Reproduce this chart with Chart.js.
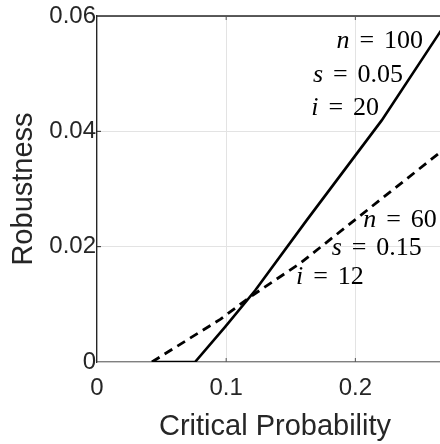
<!DOCTYPE html>
<html>
<head>
<meta charset="utf-8">
<script src="https://cdn.jsdelivr.net/npm/chart.js@4.4.1/dist/chart.umd.min.js"></script>
<style>
  html, body { margin: 0; padding: 0; background: #fff; overflow: hidden; }
  #wrap { width: 456px; height: 444px; }
</style>
</head>
<body>
<div id="wrap"><canvas id="chart" width="456" height="444"></canvas></div>
<script>
// Robustness curves
const solidX = [0.0425, 0.0759, 0.0992, 0.1224, 0.1624, 0.2204, 0.2655, 0.2742];
const solidY = [0, 0, 0.0061, 0.0124, 0.0246, 0.0419, 0.0572, 0.0600];
const dashX = [0.0425, 0.0954, 0.1186, 0.1572, 0.2011, 0.2642, 0.2756];
const dashY = [0, 0.0074, 0.0113, 0.0171, 0.0249, 0.0361, 0.0382];

const xTickValues = [0, 0.1, 0.2];
const xTickLabels = ['0', '0.1', '0.2'];
const yTickValues = [0, 0.02, 0.04, 0.06];
const yTickLabels = ['0', '0.02', '0.04', '0.06'];

const solidParams = [['n', '100'], ['s', '0.05'], ['i', '20']];
const dashParams = [['n', '60'], ['s', '0.15'], ['i', '12']];

const toPoints = (xs, ys) => xs.map((x, i) => ({ x: x, y: ys[i] }));

const TICK_FONT = { family: '"Liberation Sans", Arial, sans-serif', size: 24 };
const TITLE_FONT = { family: '"Liberation Sans", Arial, sans-serif', size: 29 };

// draws "n = 100" style labels, TeX-ish
function drawParam(ctx, name, value, x, y, alignRight) {
    const size = 26;
    const gap = size * 0.38;
    const varFont = `italic ${size}px "Liberation Serif", "DejaVu Serif", serif`;
    const romFont = `${size}px "Liberation Serif", "DejaVu Serif", serif`;
    ctx.font = varFont;
    const wVar = ctx.measureText(name).width;
    ctx.font = romFont;
    const wEq = ctx.measureText('=').width;
    const wVal = ctx.measureText(value).width;
    const total = wVar + gap + wEq + gap + wVal;
    let px = alignRight ? x - total : x;
    ctx.textBaseline = 'alphabetic';
    ctx.textAlign = 'left';
    ctx.font = varFont;
    ctx.fillText(name, px, y);
    px += wVar + gap;
    ctx.font = romFont;
    ctx.fillText('=', px, y);
    px += wEq + gap;
    ctx.fillText(value, px, y);
}

const frame = {
    id: 'frame',
    afterDraw(chart) {
        const { ctx, chartArea: a, scales } = chart;
        ctx.save();
        // top box edge
        ctx.strokeStyle = '#262626';
        ctx.lineWidth = 1.3;
        ctx.beginPath();
        ctx.moveTo(a.left, a.top);
        ctx.lineTo(a.right, a.top);
        ctx.stroke();
        // inward tick marks
        ctx.lineWidth = 1;
        xTickValues.slice(1).forEach(v => {
            const px = scales.x.getPixelForValue(v);
            ctx.strokeStyle = '#555';
            ctx.beginPath();
            ctx.moveTo(px, a.bottom); ctx.lineTo(px, a.bottom - 4);
            ctx.moveTo(px, a.top); ctx.lineTo(px, a.top + 4);
            ctx.stroke();
        });
        yTickValues.slice(1, -1).forEach(v => {
            const py = scales.y.getPixelForValue(v);
            ctx.strokeStyle = '#262626';
            ctx.beginPath();
            ctx.moveTo(a.left, py); ctx.lineTo(a.left + 4, py);
            ctx.stroke();
        });
        ctx.restore();
    },
    afterDatasetsDraw(chart) {
        const { ctx, scales } = chart;
        const X = v => scales.x.getPixelForValue(v);
        const Y = v => scales.y.getPixelForValue(v);
        ctx.save();
        ctx.fillStyle = '#000';
        // labels for the solid curve, right aligned along the line
        const upperX = [0.2524, 0.2369, 0.2183];
        const upperY = [0.0544, 0.0486, 0.0428];
        solidParams.forEach((p, i) => drawParam(ctx, p[0], p[1], X(upperX[i]), Y(upperY[i]), true));
        // labels for the dashed curve, left aligned
        const lowerX = [0.2062, 0.1817, 0.1541];
        const lowerY = [0.0234, 0.0185, 0.0136];
        dashParams.forEach((p, i) => drawParam(ctx, p[0], p[1], X(lowerX[i]), Y(lowerY[i]), false));
        ctx.restore();
    }
};

new Chart(document.getElementById('chart'), {
    type: 'line',
    data: {
        datasets: [
            {
                data: toPoints(solidX, solidY),
                borderColor: '#000',
                borderWidth: 2.6,
                pointRadius: 0,
                tension: 0
            },
            {
                data: toPoints(dashX, dashY),
                borderColor: '#000',
                borderWidth: 2.8,
                borderDash: [9, 6],
                pointRadius: 0,
                tension: 0
            }
        ]
    },
    options: {
        responsive: false,
        animation: false,
        events: [],
        layout: { padding: { top: 16, right: 3, left: 0, bottom: 0 } },
        plugins: { legend: { display: false }, tooltip: { enabled: false } },
        scales: {
            x: {
                type: 'linear',
                min: 0,
                max: 0.2756,
                afterBuildTicks: s => { s.ticks = xTickValues.map(v => ({ value: v })); },
                afterFit: s => { s.height = 82; s.paddingLeft = 0; s.paddingRight = 0; },
                ticks: {
                    callback: (v, i) => xTickLabels[i],
                    font: TICK_FONT,
                    color: '#262626',
                    padding: 12,
                    maxRotation: 0
                },
                grid: { color: '#e3e3e3', drawTicks: false },
                border: { color: '#808080', width: 1.3 },
                title: {
                    display: true,
                    text: 'Critical Probability',
                    font: TITLE_FONT,
                    color: '#262626',
                    padding: { top: 0, bottom: 0 }
                }
            },
            y: {
                min: 0,
                max: 0.06,
                afterBuildTicks: s => { s.ticks = yTickValues.map(v => ({ value: v })); },
                afterFit: s => { s.width = 97; s.paddingTop = 0; s.paddingBottom = 0; },
                ticks: {
                    callback: (v, i) => yTickLabels[i],
                    font: TICK_FONT,
                    color: '#262626',
                    padding: 1
                },
                grid: { color: '#e3e3e3', drawTicks: false },
                border: { color: '#262626', width: 1.3 },
                title: {
                    display: true,
                    text: 'Robustness',
                    font: TITLE_FONT,
                    color: '#262626',
                    padding: { top: 7, bottom: 0 }
                }
            }
        }
    },
    plugins: [frame]
});
</script>
</body>
</html>
